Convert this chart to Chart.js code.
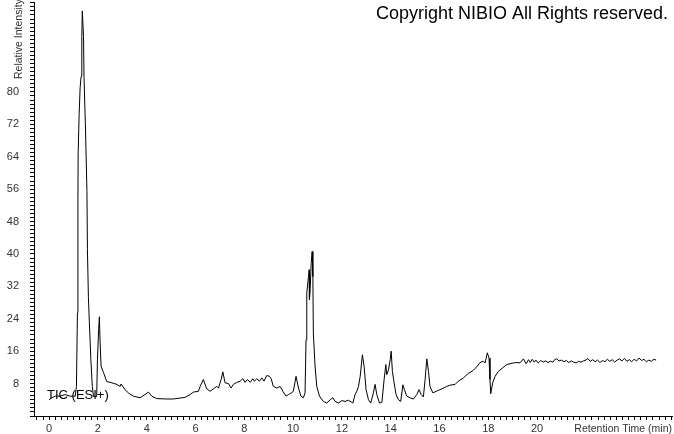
<!DOCTYPE html>
<html>
<head>
<meta charset="utf-8">
<script src="https://cdn.jsdelivr.net/npm/chart.js@4"></script>
<style>
  html, body { margin: 0; padding: 0; background: #fff; }
  canvas { display: block; }
</style>
</head>
<body>
<canvas id="tic" width="674" height="434"></canvas>
<script>
// Retention time (min) of each point of the TIC trace
const rtMin = [
  0.00, 0.11, 0.25, 0.45, 0.66, 0.86, 1.07, 1.12, 1.16, 1.18,
  1.19, 1.23, 1.27, 1.31, 1.34, 1.36, 1.41, 1.43, 1.49, 1.55,
  1.57, 1.61, 1.65, 1.71, 1.77, 1.82, 1.95, 1.98, 2.03, 2.06,
  2.09, 2.13, 2.23, 2.36, 2.57, 2.77, 2.91, 2.95, 3.11, 3.25,
  3.45, 3.73, 3.93, 4.07, 4.21, 4.41, 4.82, 5.09, 5.57, 5.78,
  5.91, 6.12, 6.19, 6.32, 6.46, 6.60, 6.73, 6.87, 6.94, 7.05,
  7.12, 7.21, 7.35, 7.46, 7.55, 7.69, 7.83, 7.94, 8.03, 8.13,
  8.24, 8.35, 8.41, 8.51, 8.62, 8.72, 8.81, 8.92, 9.03, 9.10,
  9.19, 9.33, 9.47, 9.58, 9.71, 9.81, 9.88, 10.01, 10.12, 10.22,
  10.32, 10.42, 10.49, 10.53, 10.56, 10.63, 10.66, 10.67, 10.70, 10.74,
  10.78, 10.81, 10.83, 10.90, 10.97, 11.08, 11.24, 11.38, 11.52, 11.63,
  11.72, 11.86, 12.00, 12.13, 12.27, 12.45, 12.54, 12.61, 12.68, 12.75,
  12.84, 12.91, 12.99, 13.09, 13.18, 13.29, 13.36, 13.43, 13.54, 13.64,
  13.73, 13.80, 13.84, 13.91, 13.98, 14.02, 14.07, 14.14, 14.22, 14.32,
  14.41, 14.50, 14.56, 14.66, 14.80, 14.93, 15.07, 15.16, 15.25, 15.34,
  15.41, 15.48, 15.55, 15.61, 15.73, 15.86, 16.02, 16.16, 16.30, 16.43,
  16.64, 16.77, 16.98, 17.18, 17.39, 17.55, 17.66, 17.80, 17.87, 17.96,
  18.03, 18.07, 18.10, 18.18, 18.28, 18.41, 18.59, 18.76, 18.89, 19.03,
  19.17, 19.30, 19.44, 19.55, 19.65, 19.72, 19.80, 19.88, 19.95, 20.05,
  20.15, 20.25, 20.35, 20.45, 20.55, 20.65, 20.72, 20.80, 20.90, 21.00,
  21.10, 21.20, 21.30, 21.40, 21.50, 21.60, 21.70, 21.80, 21.90, 22.00,
  22.08, 22.18, 22.28, 22.38, 22.48, 22.58, 22.68, 22.78, 22.88, 22.98,
  23.08, 23.18, 23.28, 23.38, 23.48, 23.58, 23.68, 23.78, 23.88, 23.98,
  24.08, 24.18, 24.28, 24.38, 24.48, 24.58, 24.68, 24.78, 24.88
];

// Relative intensity (%) at each retention time above
const intensity = [
  4.0, 4.5, 4.9, 4.9, 5.3, 4.9, 4.9, 7.3, 25.5, 53.4,
  65.0, 74.4, 81.0, 83.8, 93.7, 100.0, 93.7, 83.8, 71.1, 55.4,
  41.1, 29.2, 23.0, 13.9, 7.3, 4.8, 4.8, 13.9, 21.3, 24.5,
  18.1, 12.3, 10.7, 8.5, 8.2, 7.8, 7.3, 7.9, 6.5, 5.7,
  4.9, 4.5, 5.3, 5.9, 4.9, 4.3, 4.2, 4.2, 4.6, 5.3,
  5.9, 6.1, 7.3, 9.0, 6.7, 6.1, 6.7, 7.3, 6.9, 9.0,
  10.9, 8.2, 8.0, 6.9, 7.8, 8.3, 8.6, 9.2, 8.3, 9.0,
  8.3, 9.2, 8.6, 9.2, 8.6, 9.4, 8.6, 10.0, 9.8, 9.2,
  7.3, 6.9, 7.3, 6.1, 4.9, 5.3, 5.5, 6.1, 9.8, 6.9,
  4.9, 4.5, 5.7, 18.8, 30.4, 34.4, 36.1, 28.7, 31.2, 37.7,
  40.6, 34.4, 20.5, 12.3, 7.3, 4.9, 3.6, 3.2, 4.0, 4.5,
  3.6, 3.2, 3.8, 3.6, 3.9, 3.2, 5.3, 6.1, 7.3, 9.8,
  15.1, 12.3, 6.5, 4.0, 3.2, 5.7, 7.8, 5.3, 3.2, 3.4,
  9.0, 12.7, 10.2, 11.4, 13.9, 16.0, 11.0, 8.2, 5.3, 4.0,
  3.6, 7.7, 6.5, 4.9, 4.5, 4.2, 5.3, 6.5, 5.3, 4.7,
  9.0, 14.1, 11.0, 7.3, 5.7, 6.1, 6.5, 6.9, 7.3, 7.6,
  7.8, 8.6, 9.4, 10.5, 11.3, 12.3, 13.2, 13.5, 13.1, 15.6,
  14.3, 9.0, 5.5, 8.2, 9.8, 11.0, 11.9, 12.7, 12.9, 13.1,
  13.2, 13.1, 14.1, 12.9, 13.9, 13.2, 14.0, 13.3, 13.8, 13.1,
  13.7, 13.3, 13.6, 13.2, 13.5, 13.3, 13.9, 14.1, 13.6, 13.8,
  13.4, 13.7, 13.2, 13.6, 13.3, 13.1, 13.5, 13.3, 13.6, 13.8,
  14.2, 13.5, 13.9, 13.4, 13.8, 13.2, 13.7, 13.4, 14.0, 13.5,
  13.9, 13.3, 13.8, 14.1, 13.6, 14.2, 13.5, 13.9, 13.4, 14.0,
  13.6, 14.3, 13.7, 14.0, 13.4, 13.8, 13.5, 14.0, 13.8
];

// labelled ticks
const xTickLabels = [0, 2, 4, 6, 8, 10, 12, 14, 16, 18, 20];
const yTickLabels = [8, 16, 24, 32, 40, 48, 56, 64, 72, 80];

if (rtMin.length !== intensity.length) console.warn('length mismatch', rtMin.length, intensity.length);

const FONT = "'Liberation Sans', Arial, sans-serif";

// minor tick positions (every 0.25 min / every 1 %)
const xMinor = [];
for (let v = -0.5; v <= 25.5; v += 0.25) xMinor.push(v);
const yMinor = [];
for (let v = 0; v <= 102; v += 1) yMinor.push(v);

// free text on the picture
const textPlugin = {
  id: 'texts',
  afterDatasetsDraw(chart) {
    const ctx = chart.ctx;
    ctx.save();
    ctx.fillStyle = '#000';
    ctx.font = '18px ' + FONT;
    ctx.textAlign = 'right';
    ctx.textBaseline = 'middle';
    ctx.fillText('Copyright NIBIO All Rights reserved.', 668, 14);

    ctx.font = '13px ' + FONT;
    ctx.textAlign = 'left';
    ctx.fillText('TIC (ESI+)', 47, 395);

    ctx.fillStyle = '#333';
    ctx.font = '10.5px ' + FONT;
    ctx.textAlign = 'right';
    ctx.fillText('Retention Time (min)', 672, 429);

    ctx.translate(19, 79);
    ctx.rotate(-Math.PI / 2);
    ctx.textAlign = 'left';
    ctx.fillText('Relative Intensity', 0, 0);
    ctx.restore();
  }
};

new Chart(document.getElementById('tic'), {
  type: 'scatter',
  data: {
    datasets: [{
      data: rtMin.map((t, i) => ({ x: t, y: intensity[i] })),
      showLine: true,
      borderColor: '#000',
      borderWidth: 1,
      pointRadius: 0,
      tension: 0
    }]
  },
  options: {
    responsive: false,
    animation: false,
    layout: { padding: { top: 2, right: 2, left: 0, bottom: 0 } },
    plugins: { legend: { display: false }, tooltip: { enabled: false } },
    scales: {
      x: {
        type: 'linear',
        min: -0.62,
        max: 25.53,
        afterBuildTicks: (scale) => { scale.ticks = xMinor.map(v => ({ value: v })); },
        afterFit: (scale) => { scale.height = 18; scale.paddingLeft = 0; scale.paddingRight = 0; },
        grid: { drawOnChartArea: false, drawTicks: true, tickLength: 4, color: '#000' },
        border: { display: true, color: '#000' },
        ticks: {
          autoSkip: false, maxRotation: 0, padding: 2, color: '#333',
          font: { family: FONT, size: 11 },
          callback: (v) => xTickLabels.includes(v) ? String(v) : ''
        }
      },
      y: {
        min: 0,
        max: 102.2,
        afterBuildTicks: (scale) => { scale.ticks = yMinor.map(v => ({ value: v })); },
        afterFit: (scale) => { scale.width = 34; scale.paddingTop = 0; scale.paddingBottom = 0; },
        grid: { drawOnChartArea: false, drawTicks: true, tickLength: 4, color: '#000' },
        border: { display: true, color: '#000' },
        ticks: {
          autoSkip: false, padding: 11, color: '#333',
          font: { family: FONT, size: 11 },
          callback: (v) => yTickLabels.includes(v) ? String(v) : ''
        }
      }
    }
  },
  plugins: [textPlugin]
});
</script>
</body>
</html>
